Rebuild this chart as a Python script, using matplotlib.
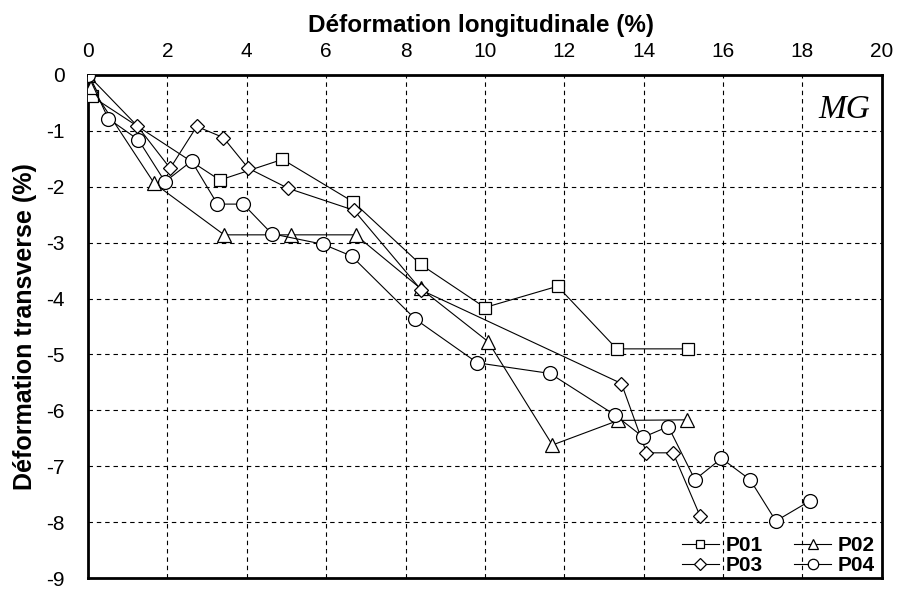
import matplotlib
matplotlib.use("Agg")
import matplotlib.pyplot as plt

# Longitudinal strain (%) vs transverse strain (%) for four specimens
p01_x = [0, 0.09, 3.32, 4.90, 6.68, 8.38, 10.00, 11.83, 13.32, 15.12]
p01_y = [0, -0.38, -1.88, -1.51, -2.27, -3.39, -4.16, -3.78, -4.90, -4.90]

p02_x = [0, 0.08, 1.67, 3.43, 5.11, 6.74, 8.38, 10.08, 11.70, 13.36, 15.08]
p02_y = [0, -0.22, -1.94, -2.86, -2.86, -2.86, -3.82, -4.77, -6.62, -6.18, -6.17]

p03_x = [0, 1.24, 2.07, 2.74, 3.41, 4.04, 5.05, 6.70, 8.40, 13.44, 14.07, 14.74, 15.42]
p03_y = [0, -0.91, -1.67, -0.92, -1.12, -1.67, -2.03, -2.42, -3.85, -5.52, -6.76, -6.76, -7.89]

p04_x = [0, 0.51, 1.27, 1.94, 2.61, 3.26, 3.91, 4.63, 5.93, 6.64, 8.25, 9.81, 11.64,
         13.27, 13.99, 14.62, 15.29, 15.96, 16.68, 17.33, 18.19]
p04_y = [0, -0.78, -1.16, -1.91, -1.54, -2.31, -2.31, -2.84, -3.03, -3.24, -4.37, -5.15, -5.34,
         -6.08, -6.48, -6.29, -7.24, -6.86, -7.24, -7.98, -7.62]

x_ticks = list(range(0, 21, 2))
y_ticks = list(range(0, -10, -1))

plt.rcParams['font.family'] = ['Liberation Sans', 'DejaVu Sans']

fig = plt.figure(figsize=(8.98, 5.90), dpi=100)
ax = fig.add_axes([0.098, 0.0203, 0.884, 0.8526])

common = dict(color='black', linewidth=0.8, markerfacecolor='white',
              markeredgecolor='black', markeredgewidth=0.9)
h1, = ax.plot(p01_x, p01_y, marker='s', markersize=8, label='P01', zorder=3, **common)
h2, = ax.plot(p02_x, p02_y, marker='^', markersize=10, label='P02', zorder=3, **common)
h3, = ax.plot(p03_x, p03_y, marker='D', markersize=7.5, label='P03', zorder=3, **common)
h4, = ax.plot(p04_x, p04_y, marker='o', markersize=10, label='P04', zorder=4, **common)

ax.set_xlim(0, 20)
ax.set_ylim(-9, 0)
ax.set_xticks(x_ticks)
ax.set_yticks(y_ticks)
ax.set_yticklabels([str(v) for v in y_ticks])

ax.xaxis.tick_top()
ax.xaxis.set_label_position('top')
ax.tick_params(axis='both', length=0, labelsize=15)
ax.tick_params(axis='x', pad=10)
ax.tick_params(axis='y', pad=17)

ax.grid(True, color='black', linestyle=(0, (4, 3.5)), linewidth=0.8)
ax.set_axisbelow(True)
for s in ax.spines.values():
    s.set_linewidth(2.0)
    s.set_color('black')

ax.set_xlabel('Déformation longitudinale (%)', fontsize=17.5, fontweight='bold')
ax.xaxis.set_label_coords(0.495, 1.086)
ax.set_ylabel('Déformation transverse (%)', fontsize=18, fontweight='bold')
ax.yaxis.set_label_coords(-0.064, 0.5)

ax.text(0.985, 0.9145, 'MG', transform=ax.transAxes, ha='right', va='baseline',
        fontsize=24, style='italic', family='Liberation Serif')

leg = ax.legend(handles=[h1, h3, h2, h4], loc='lower right', ncol=2, frameon=False,
                prop={'weight': 'bold', 'size': 15}, handlelength=1.8, handletextpad=0.3,
                columnspacing=1.5, labelspacing=0.05, borderaxespad=0.0, borderpad=0.15,
                markerscale=0.75, bbox_to_anchor=(0.995, 0.0))

fig.savefig('out.png', dpi=100)
